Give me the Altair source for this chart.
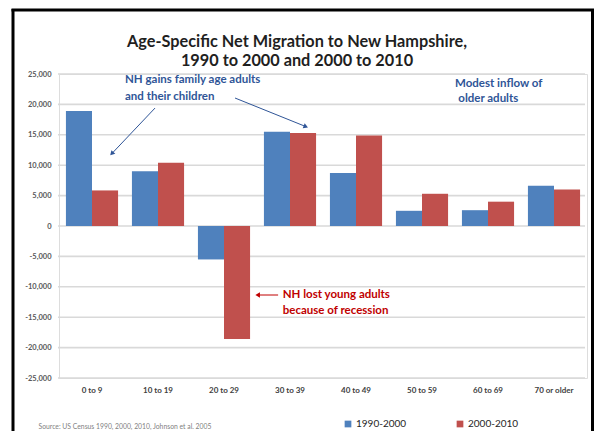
import altair as alt
import pandas as pd

# ---- chart data ----
categories = ["0 to 9", "10 to 19", "20 to 29", "30 to 39", "40 to 49", "50 to 59", "60 to 69", "70 or older"]
periods = ["1990-2000", "2000-2010"]
net_1990_2000 = [18900, 9000, -5500, 15500, 8700, 2500, 2600, 6600]
net_2000_2010 = [5850, 10400, -18600, 15300, 14900, 5300, 4000, 6000]
y_ticks = [25000, 20000, 15000, 10000, 5000, 0, -5000, -10000, -15000, -20000, -25000]

title_lines = ["Age-Specific Net Migration to New Hampshire,", "1990 to 2000 and 2000 to 2010"]
source_text = "Source: US Census 1990, 2000, 2010, Johnson et al. 2005"

# annotations (x in category units 0..8, y in data units)
blue_notes = ["NH gains family age adults", "and their children", "Modest inflow of", "older adults"]
blue_notes_x = [1.0, 1.0, 6.0, 6.05]
blue_notes_y = [24000, 21200, 23400, 20900]
red_notes = ["NH lost young adults", "because of recession"]
red_notes_x = [3.39, 3.39]
red_notes_y = [-11350, -14000]

arrow_x1 = [1.455, 2.667, 3.32]
arrow_y1 = [19400, 21050, -11350]
arrow_x2 = [0.80, 3.74, 3.01]
arrow_y2 = [11900, 16350, -11350]
arrow_angle = [223, 112, 270]
arrow_color = ["#2f5597", "#2f5597", "#c00000"]

BLUE = "#4f81bd"
RED = "#c0504d"
FONT = "Lato"

rows = []
for c, a, b in zip(categories, net_1990_2000, net_2000_2010):
    rows.append({"category": c, "period": periods[0], "value": a})
    rows.append({"category": c, "period": periods[1], "value": b})
df = pd.DataFrame(rows)

yscale = alt.Scale(domain=[-25000, 25000], nice=False)
yaxis = alt.Axis(title=None, values=y_ticks, labelFont=FONT, labelFontSize=7.5,
                 labelFontWeight="bold", labelColor="#595959", labelPadding=8,
                 labelOverlap=False, ticks=False, domain=False, grid=False,
                 labelExpr="replace(format(datum.value, ','), '\u2212', '-')")

grid_df = pd.DataFrame({"tick": y_ticks})
grid = alt.Chart(grid_df).mark_rule(color="#d9d9d9", strokeWidth=1.6).encode(
    y=alt.Y("tick:Q", scale=yscale, axis=yaxis),
    x=alt.value(-1), x2=alt.value(526))

bars = alt.Chart(df).mark_bar().encode(
    x=alt.X("category:N", sort=categories,
            scale=alt.Scale(paddingInner=0.21, paddingOuter=0.105),
            axis=alt.Axis(title=source_text, labelAngle=0, labelFont=FONT, labelFontSize=8,
                          labelFontWeight="bold", labelColor="#404040", labelPadding=8,
                          ticks=False, domain=False, grid=False,
                          titleFont=FONT, titleFontSize=6.8, titleFontWeight="normal",
                          titleColor="#7f7f7f", titleAnchor="start", titleAlign="left",
                          titleX=-21, titleY=48, titleBaseline="middle")),
    xOffset=alt.XOffset("period:N", sort=periods, scale=alt.Scale(paddingInner=0, paddingOuter=0)),
    y=alt.Y("value:Q", scale=yscale, axis=yaxis),
    color=alt.Color("period:N", scale=alt.Scale(domain=periods, range=[BLUE, RED]),
                    legend=alt.Legend(title=None, orient="none", legendX=284, legendY=345,
                                      direction="horizontal", symbolType="square", symbolSize=45,
                                      symbolStrokeWidth=0, labelFont=FONT, labelFontSize=10,
                                      labelColor="#262626", columnPadding=48, labelOffset=3)),
)

xq = alt.Scale(domain=[0, 8], nice=False, zero=False)

blue_df = pd.DataFrame({"u": blue_notes_x, "v": blue_notes_y, "label": blue_notes})
red_df = pd.DataFrame({"u": red_notes_x, "v": red_notes_y, "label": red_notes})

blue_text = alt.Chart(blue_df).mark_text(align="left", baseline="middle", font=FONT, fontSize=11.5,
                                         fontWeight="bold", color="#2f5597").encode(
    x=alt.X("u:Q", scale=xq, axis=None), y=alt.Y("v:Q", scale=yscale, axis=yaxis), text="label:N")
red_text = alt.Chart(red_df).mark_text(align="left", baseline="middle", font=FONT, fontSize=11.5,
                                       fontWeight="bold", color="#c00000").encode(
    x=alt.X("u:Q", scale=xq, axis=None), y=alt.Y("v:Q", scale=yscale, axis=yaxis), text="label:N")

arrow_df = pd.DataFrame({"u1": arrow_x1, "v1": arrow_y1, "u2": arrow_x2, "v2": arrow_y2,
                         "ang": arrow_angle, "col": arrow_color})
arrow_lines = alt.Chart(arrow_df).mark_rule(strokeWidth=1).encode(
    x=alt.X("u1:Q", scale=xq, axis=None), y=alt.Y("v1:Q", scale=yscale, axis=yaxis),
    x2="u2:Q", y2="v2:Q", color=alt.Color("col:N", scale=None))
arrow_heads = alt.Chart(arrow_df).mark_point(shape="triangle-up", filled=True, size=28, opacity=1).encode(
    x=alt.X("u2:Q", scale=xq, axis=None), y=alt.Y("v2:Q", scale=yscale, axis=yaxis),
    angle=alt.Angle("ang:Q", scale=None), color=alt.Color("col:N", scale=None))

frame_df = pd.DataFrame({"k": [0]})
left_border = alt.Chart(frame_df).mark_rule(color="black", strokeWidth=3).encode(
    x=alt.value(-46), y=alt.value(-65), y2=alt.value(360))
top_border = alt.Chart(frame_df).mark_rule(color="black", strokeWidth=3).encode(
    x=alt.value(-47.5), x2=alt.value(535), y=alt.value(-64))
right_border = alt.Chart(frame_df).mark_rule(color="black", strokeWidth=3).encode(
    x=alt.value(533.5), y=alt.value(-65), y2=alt.value(360))

chart = alt.layer(
    grid, bars, arrow_lines, arrow_heads, blue_text, red_text, left_border, top_border, right_border
).resolve_scale(x="independent", color="independent").properties(
    width=528, height=304,
    autosize=alt.AutoSizeParams(type="none"),
    padding={"left": 51, "top": 66, "right": 7, "bottom": 53},
    title=alt.TitleParams(text=title_lines, font=FONT, fontSize=16.3, fontWeight="bold",
                          color="#1f1f1f", anchor="middle", frame="group", dx=-26,
                          offset=8, lineHeight=19, dy=70),
).configure_view(stroke=None).configure_axis(labelOverlap=False).configure(background="white")

chart.save("out.html", embed_options={"renderer": "svg", "actions": False})
